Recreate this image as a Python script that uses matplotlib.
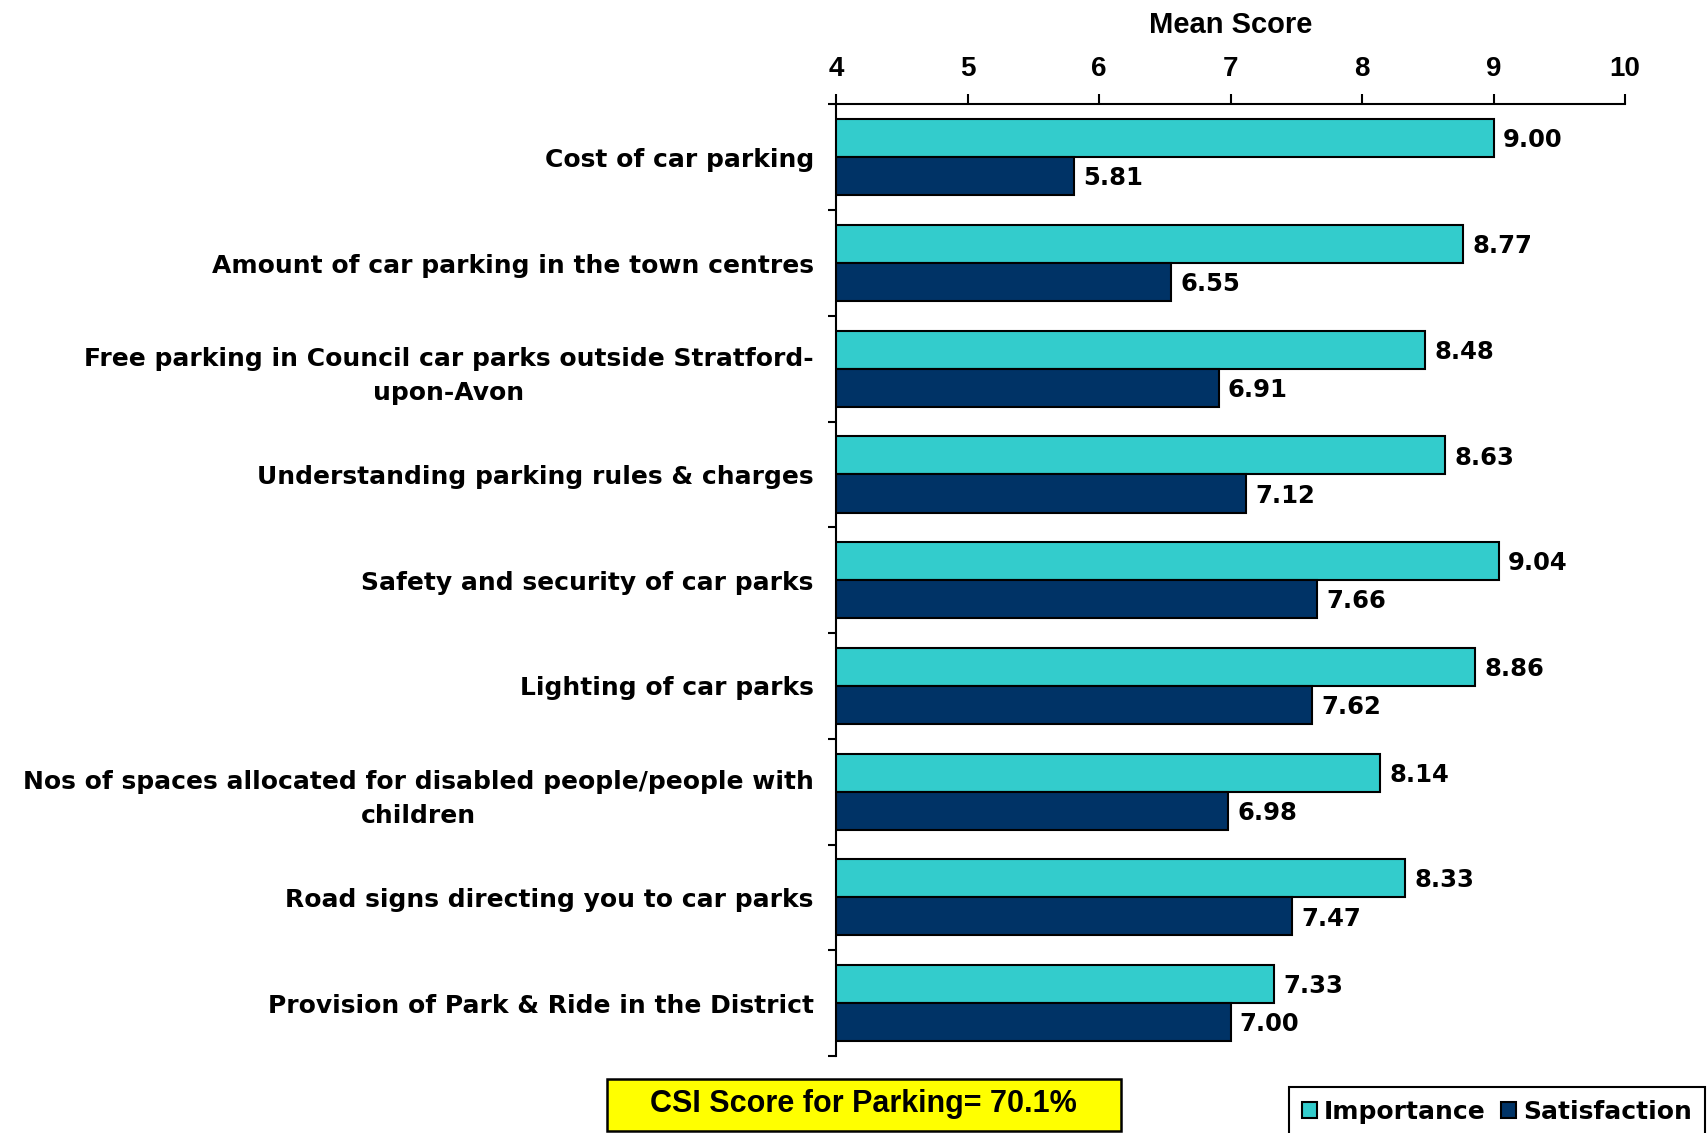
import matplotlib
matplotlib.use("Agg")
import matplotlib.pyplot as plt
from matplotlib.patches import Rectangle
import numpy as np

categories = [
    "Cost of car parking",
    "Amount of car parking in the town centres",
    "Free parking in Council car parks outside Stratford-\nupon-Avon",
    "Understanding parking rules & charges",
    "Safety and security of car parks",
    "Lighting of car parks",
    "Nos of spaces allocated for disabled people/people with\nchildren",
    "Road signs directing you to car parks",
    "Provision of Park & Ride in the District",
]
importance = [9.00, 8.77, 8.48, 8.63, 9.04, 8.86, 8.14, 8.33, 7.33]
satisfaction = [5.81, 6.55, 6.91, 7.12, 7.66, 7.62, 6.98, 7.47, 7.00]
x_ticks = [4, 5, 6, 7, 8, 9, 10]
csi_text = "CSI Score for Parking= 70.1%"

IMP_COLOR = '#33CCCC'
SAT_COLOR = '#003366'
LABEL_FONT = ['DejaVu Sans']
NARROW_FONT = ['Liberation Sans Narrow', 'Liberation Sans']

fig = plt.figure(figsize=(17.07, 11.33), dpi=100)
ax = fig.add_axes([0.4898, 0.068, 0.4622, 0.8398])

y = np.arange(len(categories))
h = 0.36
ax.barh(y - h / 2, importance, height=h, left=0, color=IMP_COLOR,
        edgecolor='black', linewidth=1.5, label='Importance')
ax.barh(y + h / 2, satisfaction, height=h, left=0, color=SAT_COLOR,
        edgecolor='black', linewidth=1.5, label='Satisfaction')

for yi, v in zip(y, importance):
    ax.text(v + 0.07, yi - h / 2 + 0.02, f"{v:.2f}", va='center', ha='left',
            fontsize=17.5, fontweight='bold', family=LABEL_FONT)
for yi, v in zip(y, satisfaction):
    ax.text(v + 0.07, yi + h / 2 + 0.02, f"{v:.2f}", va='center', ha='left',
            fontsize=17.5, fontweight='bold', family=LABEL_FONT)

ax.set_xlim(4, 10)
ax.set_ylim(len(categories) - 0.5, -0.5)

ax.xaxis.tick_top()
ax.xaxis.set_label_position('top')
ax.set_xticks(x_ticks)
ax.set_xticklabels([str(t) for t in x_ticks], fontsize=20, fontweight='bold',
                   family=NARROW_FONT)
ax.tick_params(axis='x', direction='out', length=7, width=1.5, pad=9)
ax.set_xlabel("Mean Score", fontsize=21, fontweight='bold', family=NARROW_FONT,
              labelpad=17)

ax.set_yticks(y)
ax.set_yticklabels(categories, fontsize=18, fontweight='bold', family=LABEL_FONT,
                   multialignment='center', linespacing=1.5)
ax.set_yticks(np.arange(-0.5, len(categories) + 0.5, 1), minor=True)
ax.tick_params(axis='y', which='major', length=0, pad=16)
ax.tick_params(axis='y', which='minor', length=6, width=1.5, direction='out')

for side in ['right', 'bottom']:
    ax.spines[side].set_visible(False)
for side in ['left', 'top']:
    ax.spines[side].set_linewidth(1.5)

# yellow CSI box under the chart
fig.patches.append(Rectangle((0.3556, 0.0015), 0.3011, 0.0465, transform=fig.transFigure,
                             facecolor='#FFFF00', edgecolor='black', linewidth=1.8))
fig.text(0.506, 0.0255, csi_text, ha='center', va='center', fontsize=22,
         fontweight='bold', family=['Liberation Sans'])

leg = fig.legend(loc='lower right', bbox_to_anchor=(1.006, -0.014), ncol=2,
                 fancybox=False, edgecolor='black', framealpha=1,
                 handlelength=0.6, handleheight=0.6, handletextpad=0.3,
                 columnspacing=0.6, borderpad=0.5,
                 prop={'family': LABEL_FONT, 'weight': 'bold', 'size': 18})
leg.get_frame().set_linewidth(1.5)

fig.savefig("out.png", dpi=100)
